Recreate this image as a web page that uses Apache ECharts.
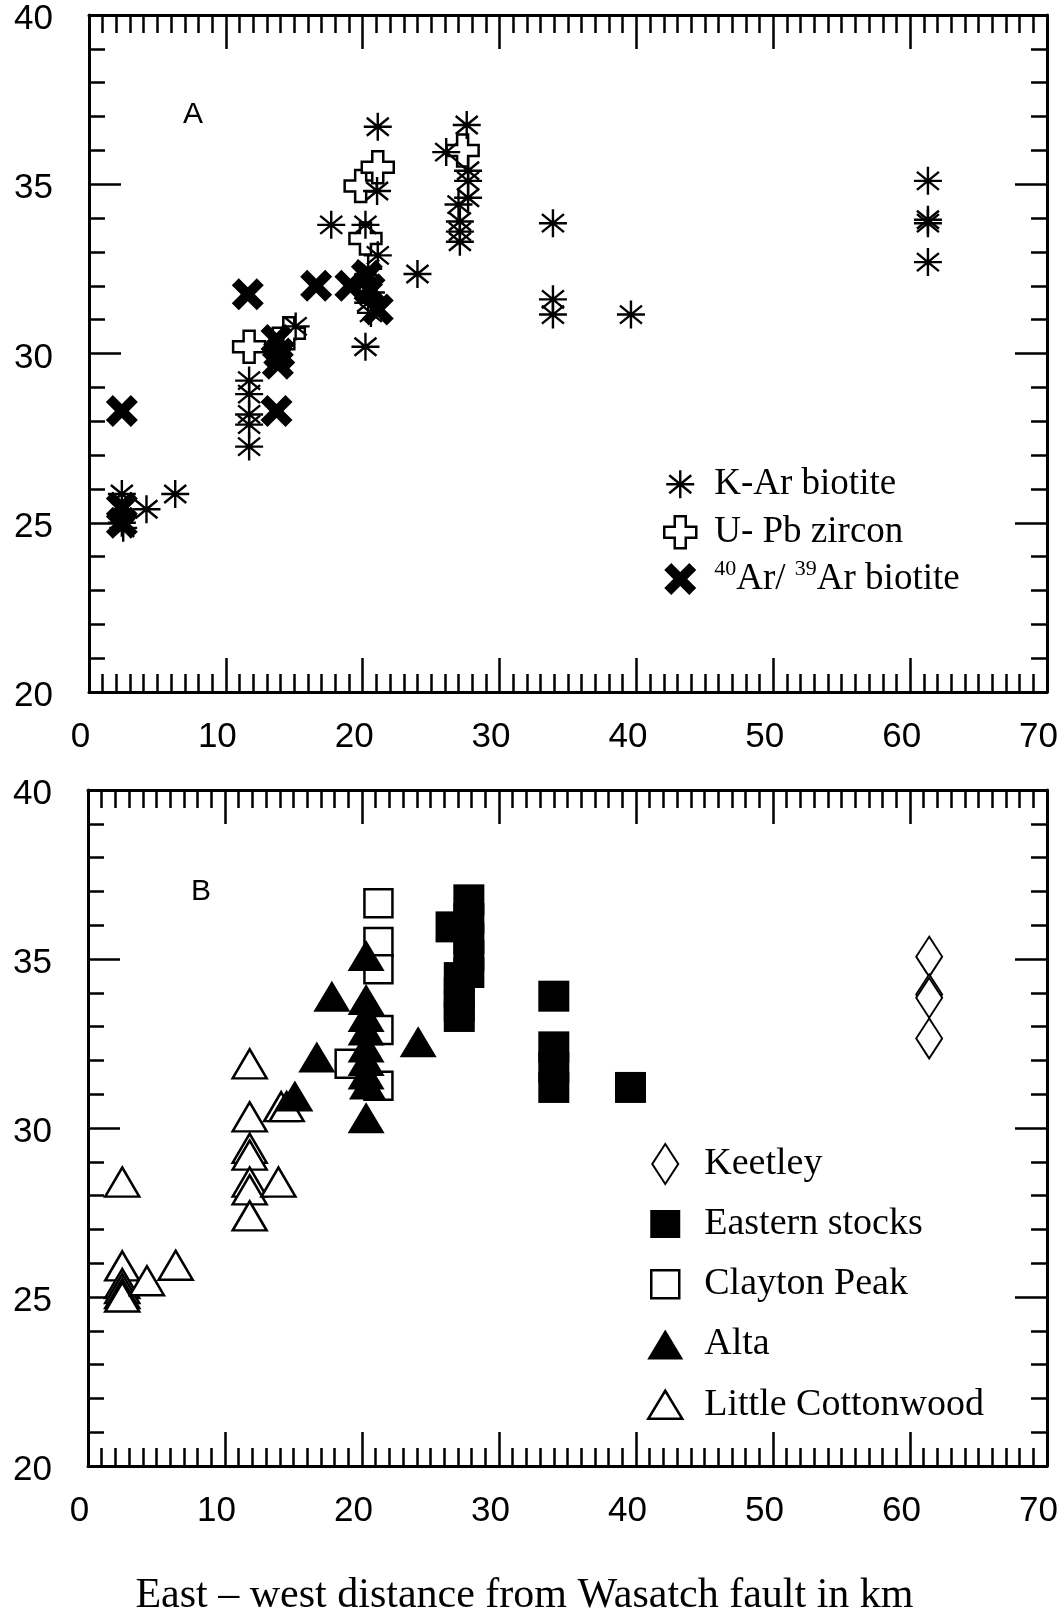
<!DOCTYPE html>
<html><head><meta charset="utf-8">
<script src="https://cdn.jsdelivr.net/npm/echarts@6/dist/echarts.min.js"></script>
<style>html,body{margin:0;padding:0;background:#fff}#c{width:1064px;height:1614px}</style>
</head><body><div id="c"></div>
<script>
// ---- axes / text ----
const xTicks = [0, 10, 20, 30, 40, 50, 60, 70];
const yTicks = [20, 25, 30, 35, 40];
const panelLabels = ['A', 'B'];
const xTitle = 'East \u2013 west distance from Wasatch fault in km';

// ---- panel A: [distance km, age Ma] ----
const kArBiotite = [
  [2.4,25.85],[2.4,25.0],[2.5,24.85],[4.2,25.4],[6.3,25.85],
  [11.7,29.2],[11.7,28.8],[11.7,28.2],[11.7,27.9],[11.7,27.25],
  [15.1,30.8],[17.7,33.8],
  [21.1,36.7],[21.05,34.8],[20.2,33.8],[21.1,32.9],[20.4,32.5],[20.2,32.1],[20.6,31.8],[20.4,31.5],[20.6,31.2],[20.2,30.2],
  [24.0,32.35],
  [26.1,35.95],[27.6,36.75],[27.7,35.4],[27.7,35.1],[27.7,34.6],[27.0,34.4],[27.1,33.9],[27.1,33.6],[27.1,33.3],
  [33.9,33.85],[33.9,31.6],[33.9,31.15],[39.6,31.15],
  [61.3,35.1],[61.3,33.95],[61.3,33.85],[61.3,32.7]
];
const uPbZircon = [[11.7,30.2],[14.6,30.6],[19.85,34.95],[21.1,35.5],[20.2,33.4],[27.3,36.0]];
const arArBiotite = [
  [2.4,28.3],[2.4,25.45],[2.4,25.0],[11.6,31.75],[13.7,28.3],[13.7,30.4],[13.9,30.0],[13.8,29.7],
  [16.6,32.0],[19.1,32.0],[20.3,32.3],[20.5,31.9],[21.1,31.3]
];

// ---- panel B ----
const keetley = [[61.4,35.07],[61.4,33.95],[61.4,33.85],[61.4,32.65]];
const easternStocks = [
  [26.5,35.95],[27.8,36.75],[27.8,36.2],[27.8,35.6],[27.8,35.1],[27.8,34.6],
  [27.1,34.45],[27.1,34.0],[27.1,33.6],[27.1,33.3],
  [34.0,33.9],[34.0,32.4],[34.0,31.8],[34.0,31.2],[39.6,31.2]
];
const claytonPeak = [[21.2,36.65],[21.2,35.5],[21.2,34.7],[21.2,32.9],[19.1,31.9],[21.2,31.25]];
const alta = [
  [20.3,35.1],[17.8,33.9],[20.3,33.8],[20.3,33.3],[20.3,32.9],[20.3,32.4],[20.3,32.0],[20.3,31.6],
  [20.4,31.3],[24.1,32.55],[16.7,32.1],[15.1,30.95],[20.3,30.3]
];
const littleCottonwood = [
  [2.5,28.4],[2.5,25.92],[2.5,25.4],[2.5,25.25],[2.5,25.1],[2.5,25.0],[4.3,25.48],[6.4,25.94],
  [11.8,31.9],[11.8,30.33],[11.8,29.4],[11.8,29.2],[11.8,28.4],[11.8,28.17],[11.8,27.4],
  [13.9,28.4],[14.1,30.63],[14.5,30.63]
];

const NAMES = {
  kar: 'K-Ar biotite', upb: 'U- Pb zircon', arar: '40Ar/39Ar biotite',
  kee: 'Keetley', eas: 'Eastern stocks', cla: 'Clayton Peak', alt: 'Alta', lit: 'Little Cottonwood'
};

// ---- symbols ----
const AST = 'M0,-14L0,14M-14,0L14,0M-11,-9L11,9M-11,9L11,-9';
const PLUS = 'M-5.5,-16L5.5,-16L5.5,-5.5L16,-5.5L16,5.5L5.5,5.5L5.5,16L-5.5,16L-5.5,5.5L-16,5.5L-16,-5.5L-5.5,-5.5Z';
const XSYM = 'M-16,-9L-9,-16L0,-7L9,-16L16,-9L7,0L16,9L9,16L0,7L-9,16L-16,9L-7,0Z';
const padA = 'M-29,-21M29,21';
const padB = 'M-34,-21M34,21';

const FONT_SANS = 'Liberation Sans';
const FONT_SERIF = 'Liberation Serif';

function xAxisCfg(g, pos, show, extra) {
  return Object.assign({
    type: 'value', gridIndex: g, position: pos,
    min: xTicks[0], max: xTicks[xTicks.length - 1], interval: xTicks[1] - xTicks[0],
    axisLine: {show: true, onZero: false, lineStyle: {color: '#000', width: 3}},
    axisTick: {show: true, inside: true, length: 34, lineStyle: {color: '#000', width: 2.5}},
    minorTick: {show: true, splitNumber: 10, length: 18, lineStyle: {color: '#000', width: 2.5}},
    splitLine: {show: false}, minorSplitLine: {show: false},
    axisLabel: {show: show, margin: 28, fontSize: 35, fontFamily: FONT_SANS, color: '#000', padding: [0, 17, 0, 0]}
  }, extra || {});
}
function yAxisCfg(g, pos, show) {
  return {
    type: 'value', gridIndex: g, position: pos,
    min: yTicks[0], max: yTicks[yTicks.length - 1], interval: yTicks[1] - yTicks[0],
    axisLine: {show: true, onZero: false, lineStyle: {color: '#000', width: 3}},
    axisTick: {show: true, inside: true, length: 32, lineStyle: {color: '#000', width: 2.5}},
    minorTick: {show: true, splitNumber: 5, length: 16, lineStyle: {color: '#000', width: 2.5}},
    splitLine: {show: false}, minorSplitLine: {show: false},
    axisLabel: {
      show: show, margin: 36, color: '#000',
      formatter: function (v) { return '{t|' + v + '}'; },
      rich: {t: {fontSize: 35, fontFamily: FONT_SANS, color: '#000', padding: [9, 0, 0, 0]}}
    }
  };
}

function sc(name, data, xi, symbol, size, style, z) {
  return {
    type: 'scatter', name: name, xAxisIndex: xi, yAxisIndex: xi, data: data,
    symbol: symbol, symbolSize: size, z: z, silent: true,
    itemStyle: Object.assign({opacity: 1}, style)
  };
}

const sOpen = {color: '#fff', borderColor: '#000', borderWidth: 2.5};
const sFill = {color: '#000', borderWidth: 0};
const sLine = {color: 'rgba(0,0,0,0)', borderColor: '#000', borderWidth: 2.4};

const chart = echarts.init(document.getElementById('c'), null, {renderer: 'canvas'});
chart.setOption({
  animation: false,
  backgroundColor: '#fff',
  grid: [
    {left: 89, top: 15, width: 958, height: 677, containLabel: false, outerBoundsMode: 'none'},
    {left: 88, top: 790, width: 959, height: 676, containLabel: false, outerBoundsMode: 'none'}
  ],
  xAxis: [
    xAxisCfg(0, 'bottom', true),
    xAxisCfg(0, 'top', false),
    xAxisCfg(1, 'bottom', true, {
      name: xTitle, nameLocation: 'middle', nameGap: 109,
      nameTextStyle: {fontFamily: FONT_SERIF, fontSize: 42, color: '#000', padding: [0, 86, 0, 0]}
    }),
    xAxisCfg(1, 'top', false)
  ],
  yAxis: [
    yAxisCfg(0, 'left', true),
    yAxisCfg(0, 'right', false),
    yAxisCfg(1, 'left', true),
    yAxisCfg(1, 'right', false)
  ],
  legend: [
    {
      orient: 'vertical', left: 650, top: 462, padding: 0,
      itemWidth: 58, itemHeight: 42, itemGap: 3.5, selectedMode: false, symbolKeepAspect: true,
      data: [
        {name: NAMES.kar, icon: 'path://' + padA + AST, itemStyle: sLine},
        {name: NAMES.upb, icon: 'path://' + padA + PLUS, itemStyle: sOpen},
        {name: NAMES.arar, icon: 'path://' + padA + XSYM, itemStyle: sFill}
      ],
      formatter: function (n) {
        if (n === NAMES.arar) return '{sup|40}{n|Ar/ }{sup|39}{n|Ar biotite}';
        return '{n|' + n + '}';
      },
      textStyle: {
        fontFamily: FONT_SERIF, fontSize: 37, color: '#000', lineHeight: 42,
        rich: {
          n: {fontFamily: FONT_SERIF, fontSize: 37, color: '#000', lineHeight: 42},
          sup: {fontFamily: FONT_SERIF, fontSize: 22, color: '#000', lineHeight: 24, verticalAlign: 'top'}
        }
      }
    },
    {
      orient: 'vertical', left: 630, top: 1142, padding: 0,
      itemWidth: 68, itemHeight: 42, itemGap: 17, selectedMode: false, symbolKeepAspect: true,
      data: [
        {name: NAMES.kee, icon: 'path://' + padB + 'M0,-20L13,0L0,20L-13,0Z', itemStyle: {color: '#fff', borderColor: '#000', borderWidth: 2}},
        {name: NAMES.eas, icon: 'path://' + padB + 'M-15,-14L15,-14L15,14L-15,14Z', itemStyle: sFill},
        {name: NAMES.cla, icon: 'path://' + padB + 'M-14,-14L14,-14L14,14L-14,14Z', itemStyle: sOpen},
        {name: NAMES.alt, icon: 'path://' + padB + 'M0,-15L18,15L-18,15Z', itemStyle: sFill},
        {name: NAMES.lit, icon: 'path://' + padB + 'M0,-14L17,14L-17,14Z', itemStyle: sOpen}
      ],
      textStyle: {fontFamily: FONT_SERIF, fontSize: 38, color: '#000', lineHeight: 42}
    }
  ],
  graphic: [
    {type: 'text', x: 193, y: 115, silent: true,
     style: {text: panelLabels[0], fontSize: 30, fontFamily: FONT_SANS, fill: '#000', align: 'center', verticalAlign: 'middle'}},
    {type: 'text', x: 201, y: 892, silent: true,
     style: {text: panelLabels[1], fontSize: 30, fontFamily: FONT_SANS, fill: '#000', align: 'center', verticalAlign: 'middle'}}
  ],
  series: [
    sc(NAMES.upb, uPbZircon, 0, 'path://' + PLUS, 32, sOpen, 2),
    sc(NAMES.kar, kArBiotite, 0, 'path://' + AST, 28, sLine, 3),
    sc(NAMES.arar, arArBiotite, 0, 'path://' + XSYM, 32, sFill, 4),
    sc(NAMES.lit, littleCottonwood, 2, 'triangle', [34, 29], sOpen, 2),
    sc(NAMES.cla, claytonPeak, 2, 'rect', [28, 28], sOpen, 3),
    sc(NAMES.alt, alta, 2, 'triangle', [37, 31], sFill, 4),
    sc(NAMES.eas, easternStocks, 2, 'rect', [31, 31], sFill, 5),
    sc(NAMES.kee, keetley, 2, 'diamond', [26, 40], {color: '#fff', borderColor: '#000', borderWidth: 2}, 6)
  ]
});
</script></body></html>
